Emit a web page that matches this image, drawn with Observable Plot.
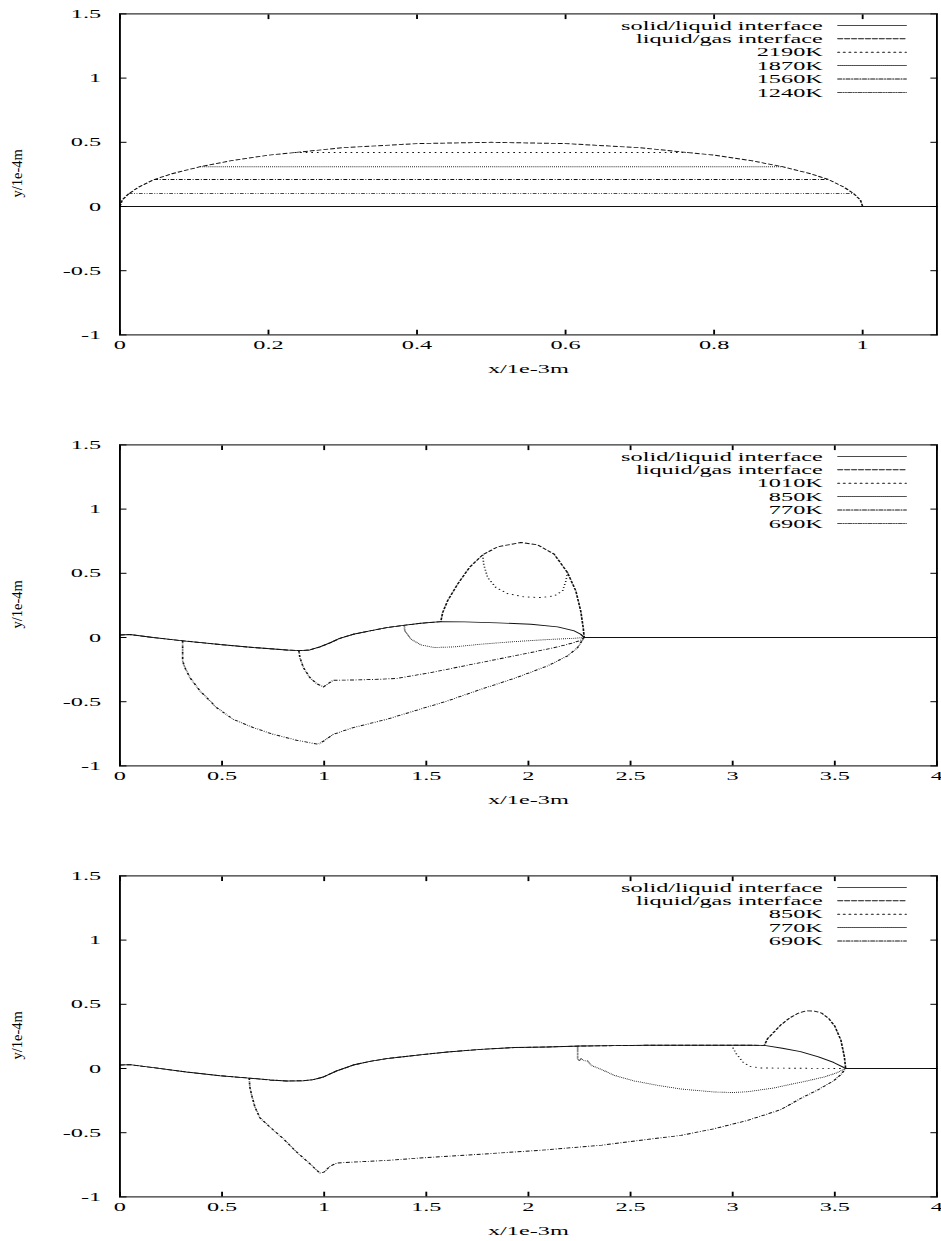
<!DOCTYPE html>
<html><head><meta charset="utf-8">
<script src="https://cdn.jsdelivr.net/npm/d3@7"></script>
<script src="https://cdn.jsdelivr.net/npm/@observablehq/plot@0.6"></script>
<style>
body{margin:0;background:#fff;}
#chart{width:941px;}
#chart svg{display:block;}
</style></head><body><div id="chart"></div>
<script>
// ---------- tick values / labels ----------
const yTicks = [-1, -0.5, 0, 0.5, 1, 1.5];
const yTickLabels = ["-1", "-0.5", "0", "0.5", "1", "1.5"];
const x1Ticks = [0, 0.2, 0.4, 0.6, 0.8, 1];
const x1TickLabels = ["0", "0.2", "0.4", "0.6", "0.8", "1"];
const x2Ticks = [0, 0.5, 1, 1.5, 2, 2.5, 3, 3.5, 4];
const x2TickLabels = ["0", "0.5", "1", "1.5", "2", "2.5", "3", "3.5", "4"];
const xLabel = "x/1e-3m";
const yLabel = "y/1e-4m";

// ---------- panel 1 ----------
const p1Names = ["solid/liquid interface", "liquid/gas interface", "2190K", "1870K", "1560K", "1240K"];
const p1Solid = [[0,0],[1.1,0]];
const p1Gas = [[0,0],[0.003,0.05],[0.012,0.10],[0.025,0.15],[0.046,0.21],[0.07,0.255],[0.108,0.31],[0.15,0.357],[0.2,0.40],[0.235,0.42],[0.3,0.458],[0.4,0.49],[0.5,0.5],[0.6,0.49],[0.7,0.458],[0.765,0.42],[0.8,0.40],[0.85,0.357],[0.892,0.31],[0.93,0.255],[0.954,0.21],[0.975,0.15],[0.988,0.10],[0.997,0.05],[1.0,0],[1.1,0]];
const p1T2190 = [[0.235,0.42],[0.765,0.42]];
const p1T1870 = [[0.108,0.31],[0.892,0.31]];
const p1T1560 = [[0.046,0.21],[0.954,0.21]];
const p1T1240 = [[0.012,0.10],[0.988,0.10]];

// ---------- panel 2 ----------
const p2Names = ["solid/liquid interface", "liquid/gas interface", "1010K", "850K", "770K", "690K"];
const p2Solid = [[0,0.02],[0.049,0.023],[0.163,0.0],[0.31,-0.026],[0.49,-0.055],[0.653,-0.078],[0.816,-0.097],[0.88,-0.102],[0.93,-0.097],[0.979,-0.073],[1.028,-0.042],[1.077,-0.006],[1.142,0.025],[1.224,0.051],[1.306,0.077],[1.387,0.094],[1.474,0.111],[1.571,0.124],[1.686,0.122],[1.849,0.114],[2.012,0.103],[2.143,0.083],[2.225,0.051],[2.256,0.025],[2.273,0],[4,0]];
const p2Gas = [[0,0.02],[0.049,0.023],[0.163,0.0],[0.31,-0.026],[0.49,-0.055],[0.653,-0.078],[0.816,-0.097],[0.88,-0.102],[0.93,-0.097],[0.979,-0.073],[1.028,-0.042],[1.077,-0.006],[1.142,0.025],[1.224,0.051],[1.306,0.077],[1.387,0.094],[1.474,0.111],[1.571,0.124],[1.58,0.194],[1.604,0.285],[1.653,0.415],[1.711,0.545],[1.776,0.644],[1.849,0.706],[1.963,0.74],[2.044,0.722],[2.126,0.649],[2.191,0.506],[2.232,0.363],[2.256,0.207],[2.268,0.078],[2.273,0],[4,0]];
const p2T1010 = [[1.776,0.644],[1.781,0.571],[1.8,0.467],[1.841,0.389],[1.898,0.342],[1.979,0.316],[2.061,0.311],[2.126,0.324],[2.167,0.363],[2.184,0.441],[2.191,0.506]];
const p2T850 = [[1.392,0.092],[1.395,0.052],[1.425,-0.013],[1.474,-0.058],[1.539,-0.078],[1.637,-0.073],[1.768,-0.052],[1.931,-0.032],[2.094,-0.016],[2.225,-0.006],[2.273,0]];
const p2T770 = [[0.876,-0.102],[0.881,-0.156],[0.898,-0.234],[0.93,-0.312],[0.963,-0.359],[0.996,-0.385],[1.02,-0.359],[1.044,-0.333],[1.142,-0.331],[1.278,-0.325],[1.359,-0.318],[1.523,-0.273],[1.686,-0.221],[1.849,-0.169],[2.012,-0.117],[2.143,-0.073],[2.225,-0.039],[2.256,-0.021],[2.273,0]];
const p2T690 = [[0.307,-0.026],[0.307,-0.183],[0.318,-0.235],[0.343,-0.313],[0.392,-0.416],[0.473,-0.546],[0.555,-0.637],[0.653,-0.702],[0.751,-0.754],[0.865,-0.8],[0.971,-0.832],[1.004,-0.8],[1.044,-0.754],[1.142,-0.702],[1.306,-0.637],[1.441,-0.572],[1.604,-0.494],[1.768,-0.403],[1.931,-0.318],[2.094,-0.221],[2.192,-0.143],[2.241,-0.078],[2.262,-0.026],[2.273,0]];

// ---------- panel 3 ----------
const p3Names = ["solid/liquid interface", "liquid/gas interface", "850K", "770K", "690K"];
const p3Solid = [[0,0.027],[0.049,0.03],[0.163,0.007],[0.326,-0.027],[0.49,-0.056],[0.633,-0.075],[0.734,-0.089],[0.816,-0.097],[0.898,-0.095],[0.947,-0.087],[0.996,-0.066],[1.061,-0.019],[1.142,0.027],[1.224,0.056],[1.306,0.077],[1.387,0.092],[1.469,0.106],[1.604,0.129],[1.768,0.149],[1.931,0.163],[2.094,0.168],[2.257,0.175],[2.42,0.178],[2.583,0.181],[2.747,0.181],[2.91,0.181],[3.073,0.181],[3.155,0.18],[3.243,0.158],[3.332,0.132],[3.42,0.091],[3.494,0.047],[3.538,0.013],[3.553,0],[4,0]];
const p3Gas = [[0,0.027],[0.049,0.03],[0.163,0.007],[0.326,-0.027],[0.49,-0.056],[0.633,-0.075],[0.734,-0.089],[0.816,-0.097],[0.898,-0.095],[0.947,-0.087],[0.996,-0.066],[1.061,-0.019],[1.142,0.027],[1.224,0.056],[1.306,0.077],[1.387,0.092],[1.469,0.106],[1.604,0.129],[1.768,0.149],[1.931,0.163],[2.094,0.168],[2.257,0.175],[2.42,0.178],[2.583,0.181],[2.747,0.181],[2.91,0.181],[3.073,0.181],[3.155,0.18],[3.171,0.233],[3.2,0.28],[3.236,0.34],[3.28,0.395],[3.32,0.43],[3.361,0.449],[3.4,0.447],[3.435,0.432],[3.47,0.39],[3.5,0.33],[3.53,0.22],[3.547,0.09],[3.553,0],[4,0]];
const p3T850 = [[3.001,0.162],[3.017,0.116],[3.05,0.051],[3.082,0.017],[3.139,0.004],[3.3,0.002],[3.553,0]];
const p3T770 = [[2.241,0.175],[2.241,0.077],[2.249,0.058],[2.257,0.077],[2.273,0.06],[2.29,0.058],[2.306,0.025],[2.355,-0.006],[2.42,-0.053],[2.518,-0.097],[2.632,-0.131],[2.747,-0.16],[2.91,-0.183],[3.0,-0.187],[3.073,-0.181],[3.2,-0.152],[3.3,-0.118],[3.361,-0.098],[3.45,-0.065],[3.509,-0.034],[3.553,0]];
const p3T690 = [[0.633,-0.074],[0.636,-0.144],[0.645,-0.209],[0.661,-0.3],[0.685,-0.383],[0.734,-0.456],[0.8,-0.547],[0.865,-0.651],[0.93,-0.742],[0.979,-0.815],[0.999,-0.807],[1.028,-0.762],[1.061,-0.736],[1.142,-0.729],[1.306,-0.716],[1.469,-0.697],[1.772,-0.667],[2.066,-0.636],[2.36,-0.597],[2.583,-0.552],[2.747,-0.521],[2.91,-0.469],[3.073,-0.404],[3.236,-0.32],[3.332,-0.234],[3.42,-0.164],[3.494,-0.096],[3.532,-0.044],[3.553,0]];

// ---------- styles (gnuplot line types) ----------
const DASH = [null, "2.6,1.1", "0.9,2.1", "0.5,0.6", "2.1,0.9,0.5,0.9", "2.0,0.8,0.5,0.8,0.5,0.8"];
const STRETCH = 1.87;          // the picture is horizontally stretched
const W = 941 / STRETCH;
const FONT = "'Liberation Serif', 'Times New Roman', serif";

const panels = [
  {h: 431, xDomain: [0, 1.1], xTicks: x1Ticks, xTickLabels: x1TickLabels, names: p1Names,
   series: [p1Solid, p1Gas, p1T2190, p1T1870, p1T1560, p1T1240], styles: [0,1,2,3,4,5]},
  {h: 431, xDomain: [0, 4], xTicks: x2Ticks, xTickLabels: x2TickLabels, names: p2Names,
   series: [p2Solid, p2Gas, p2T1010, p2T850, p2T770, p2T690], styles: [0,1,2,3,4,5]},
  {h: 379, xDomain: [0, 4], xTicks: x2Ticks, xTickLabels: x2TickLabels, names: p3Names,
   series: [p3Solid, p3Gas, p3T850, p3T770, p3T690], styles: [0,1,2,3,4]}
];

const lineShape = {draw(context, l) { context.moveTo(0, 0); context.lineTo(0, -l); }};

const mTop = 13.4, innerH = 321, mLeft = 119 / STRETCH, mRight = 5 / STRETCH;

for (const cfg of panels) {
  const marks = [];
  cfg.series.forEach((pts, i) => {
    marks.push(Plot.line(pts, {x: d => d[0], y: d => d[1], stroke: "#111", strokeWidth: 0.9,
      strokeDasharray: DASH[cfg.styles[i]], strokeLinecap: "butt"}));
  });
  // inward ticks on all four sides
  marks.push(Plot.axisY(yTicks, {anchor: "left", tickSize: 4, dx: 4, fill: "none", label: null, stroke: "#000"}));
  marks.push(Plot.axisY(yTicks, {anchor: "right", tickSize: 4, dx: -4, fill: "none", label: null, stroke: "#000"}));
  marks.push(Plot.axisX(cfg.xTicks, {anchor: "bottom", tickSize: 4.7, dy: -4.7, fill: "none", label: null, stroke: "#000"}));
  marks.push(Plot.axisX(cfg.xTicks, {anchor: "top", tickSize: 4.7, dy: 4.7, fill: "none", label: null, stroke: "#000"}));
  // tick labels
  marks.push(Plot.axisY(yTicks, {anchor: "left", tickSize: 0, tickPadding: 10, label: null, fill: "#000",
    tickFormat: d => yTickLabels[yTicks.indexOf(d)]}));
  marks.push(Plot.axisX(cfg.xTicks, {anchor: "bottom", tickSize: 0, tickPadding: 5, label: null, fill: "#000",
    tickFormat: d => cfg.xTickLabels[cfg.xTicks.indexOf(d)]}));
  // axis titles
  marks.push(Plot.text([xLabel], {text: d => d, frameAnchor: "bottom", textAnchor: "middle", dy: 33.5, lineAnchor: "middle", fill: "#000"}));
  marks.push(Plot.text([yLabel], {text: d => d, frameAnchor: "left", textAnchor: "middle", lineAnchor: "middle",
    dx: 16.7 / STRETCH - mLeft, dy: -1, rotate: -90, fontSize: 14.5, fill: "#000"}));
  marks.push(Plot.frame({stroke: "#000", strokeWidth: 1}));
  // key (inside, top right)
  cfg.names.forEach((name, i) => {
    marks.push(Plot.text([name], {text: d => d, frameAnchor: "top-right", textAnchor: "end", lineAnchor: "middle",
      dx: -61, dy: 11.5 + i * 13.4, fill: "#000"}));
    marks.push(Plot.vector([name], {frameAnchor: "top-right", dx: -53, dy: 11.5 + i * 13.4, length: 36.6, rotate: 90,
      anchor: "start", shape: lineShape, stroke: "#111", strokeWidth: 0.9, strokeDasharray: DASH[cfg.styles[i]]}));
  });

  const svg = Plot.plot({
    width: W, height: cfg.h,
    marginTop: mTop, marginBottom: cfg.h - mTop - innerH, marginLeft: mLeft, marginRight: mRight,
    x: {domain: cfg.xDomain, axis: null},
    y: {domain: [-1, 1.5], axis: null},
    style: {fontFamily: FONT, fontSize: "13px", background: "#fff", color: "#000", overflow: "visible"},
    marks
  });
  svg.setAttribute("preserveAspectRatio", "none");
  svg.style.width = "941px";
  svg.style.height = cfg.h + "px";
  svg.style.maxWidth = "none";
  // the rotated y title is not stretched in the original: undo the horizontal stretch for it
  d3.select(svg).selectAll("text").filter(function () { return this.textContent === yLabel; })
    .each(function () {
      const t = this.getAttribute("transform") || "";
      if (t.includes("rotate(")) this.setAttribute("transform", t.replace("rotate(", `scale(${1 / STRETCH},1) rotate(`));
    });
  document.getElementById("chart").appendChild(svg);
}
</script></body></html>
